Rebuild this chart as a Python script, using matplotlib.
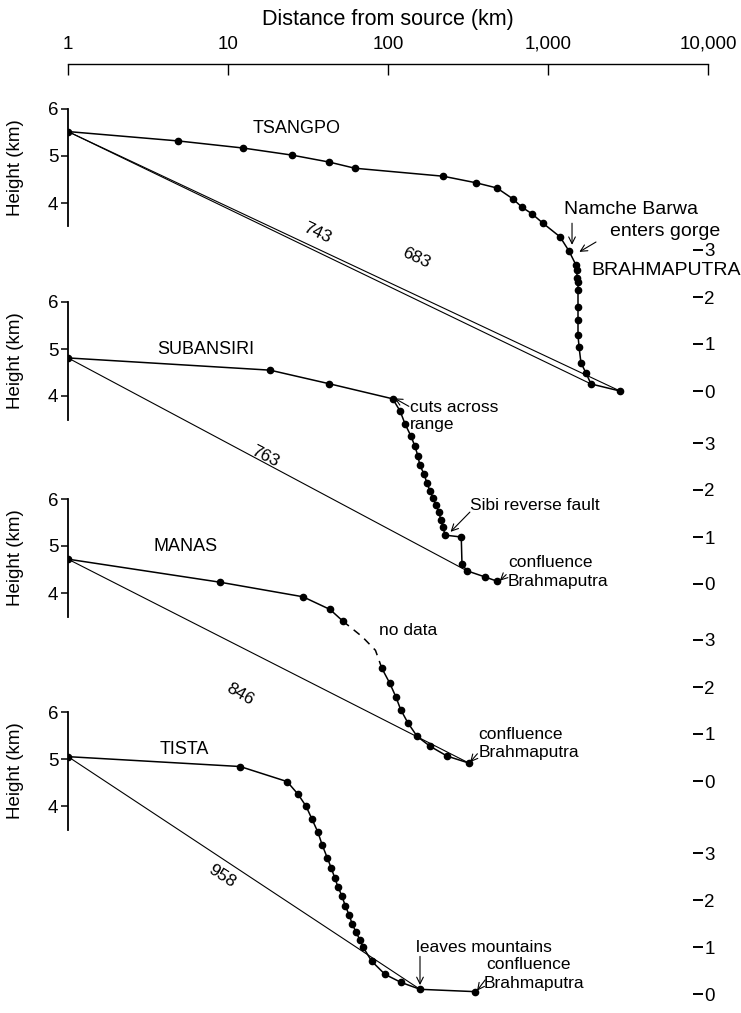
import matplotlib
matplotlib.use("Agg")
import matplotlib.pyplot as plt
from matplotlib.ticker import NullLocator

plt.rcParams["font.family"] = ["Liberation Sans", "DejaVu Sans"]
plt.rcParams["font.size"] = 14

# ---- river long profiles: distance from source (km), height (km) ----
tsangpo_dist = [1, 4.9, 12.4, 25, 43, 62, 221, 355, 479, 602, 688, 794, 930, 1189, 1352,
                1496, 1517, 1517, 1540, 1540, 1540, 1540, 1540, 1563, 1607, 1729, 1856, 2818]
tsangpo_height = [5.52, 5.32, 5.17, 5.02, 4.87, 4.74, 4.57, 4.43, 4.32, 4.09, 3.91, 3.77, 3.57,
                  3.28, 2.98, 2.68, 2.57, 2.40, 2.32, 2.15, 1.79, 1.51, 1.19, 0.94, 0.60, 0.38,
                  0.15, 0.0]

subansiri_dist = [1, 18.3, 43, 107, 119, 128, 139, 147, 154, 158, 168, 175, 183, 191, 199,
                  208, 214, 221, 227, 287, 290, 312, 404, 480]
subansiri_height = [4.81, 4.55, 4.26, 3.94, 3.68, 3.40, 3.15, 2.94, 2.72, 2.53, 2.34, 2.15,
                    1.98, 1.83, 1.68, 1.53, 1.36, 1.21, 1.04, 1.0, 0.42, 0.28, 0.15, 0.06]

manas_upper_dist = [1, 8.9, 29.4, 43.4, 52.3]
manas_upper_height = [4.72, 4.23, 3.92, 3.65, 3.40]
manas_gap_dist = [52.3, 69, 83.5, 91.5]
manas_gap_height = [3.40, 3.07, 2.78, 2.40]
manas_lower_dist = [91.5, 102.6, 112, 120, 133, 152, 183, 234, 321]
manas_lower_height = [2.40, 2.08, 1.79, 1.52, 1.24, 0.95, 0.74, 0.53, 0.38]

tista_dist = [1, 11.9, 23.4, 27.4, 30.7, 33.5, 36.5, 38.7, 41.7, 44.2, 46.6, 48.7, 51.6, 54,
              57.2, 59.6, 63, 66.8, 69.8, 79, 95.6, 120, 158.5, 350]
tista_height = [5.05, 4.84, 4.52, 4.25, 4.0, 3.72, 3.44, 3.18, 2.9, 2.68, 2.46, 2.28, 2.08,
                1.88, 1.68, 1.5, 1.32, 1.15, 1.0, 0.7, 0.42, 0.25, 0.1, 0.05]

# straight source-to-end reference lines: (end distance, end height, label)
tsangpo_chords = [(1856, 0.15, "743"), (2818, 0.0, "683")]
subansiri_chord = (312, 0.28, "763")
manas_chord = (321, 0.38, "846")
tista_chord = (158.5, 0.1, "958")

dist_ticks = [1, 10, 100, 1000, 10000]
dist_labels = ["1", "10", "100", "1,000", "10,000"]
left_ticks = [4, 5, 6]
right_ticks = [0, 1, 2, 3]

# ---- figure frame ----
W, H, DPI = 741, 1013, 100
fig = plt.figure(figsize=(W / DPI, H / DPI), dpi=DPI)
X_LEFT, X_RIGHT = 68, 708          # pixel columns of 1 km and 10,000 km
PX_PER_KM = 47.0
AX_W = (X_RIGHT - X_LEFT) / W
TICK_FS = 13.5
NAME_FS = 13
NOTE_FS = 12.5

# top distance scale
axt = fig.add_axes([X_LEFT / W, (H - 65) / H, AX_W, 1 / H])
axt.set_xscale("log")
axt.set_xlim(1, 1e4)
axt.patch.set_visible(False)
for s in ("bottom", "left", "right"):
    axt.spines[s].set_visible(False)
axt.spines["top"].set_linewidth(1.0)
axt.xaxis.tick_top()
axt.xaxis.set_label_position("top")
axt.set_xticks(dist_ticks, dist_labels)
axt.xaxis.set_minor_locator(NullLocator())
axt.tick_params(axis="x", direction="in", length=8, width=1.0, pad=8, labelsize=TICK_FS)
axt.set_yticks([])
axt.set_xlabel("Distance from source (km)", labelpad=8, fontsize=15.5)

LINE = dict(color="black", lw=1.1, marker="o", ms=4.5, solid_joinstyle="round")
CHORD = dict(color="black", lw=0.8)
ARROW = dict(arrowstyle="->", lw=0.8, color="black", shrinkA=0, shrinkB=0,
             mutation_scale=12)


def panel(zero_px):
    ax = fig.add_axes([X_LEFT / W, 0, AX_W, 1])
    ax.set_xscale("log")
    ax.set_xlim(1, 1e4)
    ylim = ((zero_px - H) / PX_PER_KM, zero_px / PX_PER_KM)
    ax.set_ylim(*ylim)
    ax.patch.set_visible(False)
    for s in ("top", "bottom", "right"):
        ax.spines[s].set_visible(False)
    ax.spines["left"].set_bounds(3.5, 6)
    ax.spines["left"].set_linewidth(1.3)
    ax.xaxis.set_major_locator(NullLocator())
    ax.xaxis.set_minor_locator(NullLocator())
    ax.set_yticks(left_ticks)
    ax.yaxis.set_minor_locator(NullLocator())
    ax.tick_params(axis="y", direction="out", length=5, width=1.1, pad=2, labelsize=TICK_FS)
    ax.set_ylabel("Height (km)", fontsize=13.5)
    yfrac = (4.75 - ylim[0]) / (ylim[1] - ylim[0])
    ax.yaxis.set_label_coords((24 - X_LEFT) / (X_RIGHT - X_LEFT), yfrac)

    tw = ax.twinx()
    tw.set_ylim(*ylim)
    for s in tw.spines.values():
        s.set_visible(False)
    tw.spines["right"].set_position(("axes", (703 - X_LEFT) / (X_RIGHT - X_LEFT)))
    tw.set_yticks(right_ticks)
    tw.yaxis.set_minor_locator(NullLocator())
    tw.tick_params(axis="y", direction="in", length=7, width=1.4, pad=1, labelsize=TICK_FS)
    return ax


def note(ax, x, y, s, **kw):
    kw.setdefault("fontsize", NOTE_FS)
    kw.setdefault("va", "center")
    kw.setdefault("ha", "left")
    ax.text(x, y, s, **kw)


# Tsangpo / Brahmaputra
ax = panel(391)
for x1, y1, lab in tsangpo_chords:
    ax.plot([tsangpo_dist[0], x1], [tsangpo_height[0], y1], **CHORD)
ax.plot(tsangpo_dist, tsangpo_height, **LINE)
note(ax, 27, 5.58, "TSANGPO", ha="center", fontsize=NAME_FS)
note(ax, 36, 3.36, tsangpo_chords[0][2], ha="center", rotation=-25)
note(ax, 150, 2.82, tsangpo_chords[1][2], ha="center", rotation=-25)
note(ax, 3300, 3.87, "Namche Barwa", ha="center", fontsize=14)
note(ax, 5400, 3.40, "enters gorge", ha="center", fontsize=14)
note(ax, 1870, 2.57, "BRAHMAPUTRA", fontsize=14)
ax.annotate("", xy=(1413, 3.11), xytext=(1413, 3.57), arrowprops=ARROW)
ax.annotate("", xy=(1570, 2.96), xytext=(1995, 3.17), arrowprops=ARROW)

# Subansiri
ax = panel(584)
ax.plot([subansiri_dist[0], subansiri_chord[0]], [subansiri_height[0], subansiri_chord[1]], **CHORD)
ax.plot(subansiri_dist, subansiri_height, **LINE)
note(ax, 3.6, 5.0, "SUBANSIRI", fontsize=NAME_FS)
note(ax, 17, 2.72, subansiri_chord[2], ha="center", rotation=-27)
note(ax, 137, 3.76, "cuts across")
note(ax, 137, 3.40, "range")
ax.annotate("", xy=(110, 3.95), xytext=(135, 3.78), arrowprops=ARROW)
note(ax, 325, 1.68, "Sibi reverse fault")
ax.annotate("", xy=(246, 1.11), xytext=(325, 1.53), arrowprops=ARROW)
note(ax, 562, 0.45, "confluence")
note(ax, 562, 0.06, "Brahmaputra")
ax.annotate("", xy=(500, 0.07), xytext=(548, 0.2), arrowprops=ARROW)

# Manas
ax = panel(781)
ax.plot([manas_upper_dist[0], manas_chord[0]], [manas_upper_height[0], manas_chord[1]], **CHORD)
ax.plot(manas_upper_dist, manas_upper_height, **LINE)
ax.plot(manas_gap_dist, manas_gap_height, color="black", lw=1.1, ls=(0, (5, 4)))
ax.plot(manas_lower_dist, manas_lower_height, **LINE)
note(ax, 3.4, 4.98, "MANAS", fontsize=NAME_FS)
note(ax, 133, 3.21, "no data", ha="center")
note(ax, 11.9, 1.85, manas_chord[2], ha="center", rotation=-30)
note(ax, 366, 0.98, "confluence")
note(ax, 366, 0.60, "Brahmaputra")
ax.annotate("", xy=(326, 0.40), xytext=(362, 0.58), arrowprops=ARROW)

# Tista
ax = panel(994)
ax.plot([tista_dist[0], tista_chord[0]], [tista_height[0], tista_chord[1]], **CHORD)
ax.plot(tista_dist, tista_height, **LINE)
note(ax, 3.76, 5.2, "TISTA", fontsize=NAME_FS)
note(ax, 9.2, 2.5, tista_chord[2], ha="center", rotation=-33)
note(ax, 150, 0.98, "leaves mountains")
ax.annotate("", xy=(158.5, 0.19), xytext=(158.5, 0.8), arrowprops=ARROW)
note(ax, 410, 0.62, "confluence")
note(ax, 395, 0.22, "Brahmaputra")
ax.annotate("", xy=(360, 0.07), xytext=(405, 0.3), arrowprops=ARROW)

fig.savefig("out.png", dpi=DPI)
